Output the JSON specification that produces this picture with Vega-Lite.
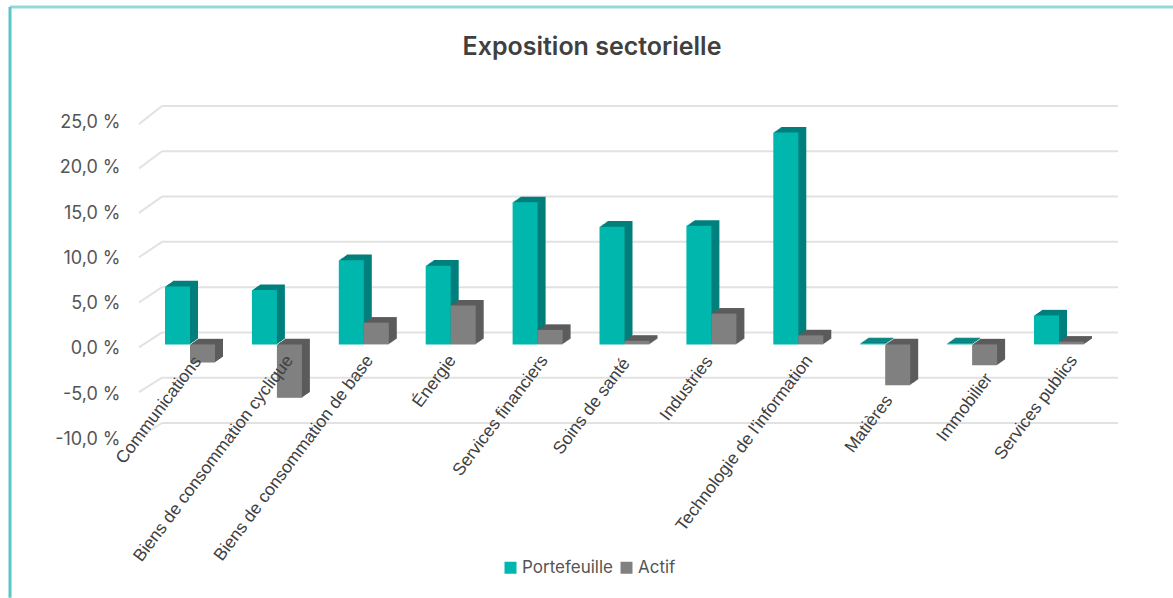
{"$schema":"https://vega.github.io/schema/vega-lite/v6.json","width":956,"height":317,"autosize":"none","padding":{"left":162,"top":106,"right":55,"bottom":175},"background":"#ffffff",
"params":[
{"name":"sx","expr":"{\"Communications\":8,\"Biens de consommation cyclique\":13,\"Biens de consommation de base\":6,\"Énergie\":2,\"Services financiers\":7,\"Soins de santé\":2,\"Industries\":-2,\"Technologie de l'information\":11,\"Matières\":4,\"Immobilier\":17,\"Services publics\":15}"},
{"name":"sy","expr":"{\"Communications\":1,\"Biens de consommation cyclique\":0,\"Biens de consommation de base\":0,\"Énergie\":0,\"Services financiers\":0,\"Soins de santé\":3,\"Industries\":1,\"Technologie de l'information\":0,\"Matières\":40,\"Immobilier\":18,\"Services publics\":0}"}
],
"title":{"text":"Exposition sectorielle","anchor":"middle","dx":-48,"offset":-54,"font":"Inter","fontSize":25,"fontWeight":600,"color":"#404040"},
"config":{"view":{"stroke":null}},
"resolve":{"scale":{"x":"independent"}},
"layer":[
{"data":{"values":[{"valeur":25,"avant":23.0},{"valeur":20,"avant":18.1},{"valeur":15,"avant":13.2},{"valeur":10,"avant":8.3},{"valeur":5,"avant":3.3},{"valeur":0,"avant":-1.65},{"valeur":-5,"avant":-6.6},{"valeur":-10,"avant":-11.6}]},
"resolve":{"scale":{"x":"independent"}},
"layer":[
{"mark":{"type":"rule","color":"#e2e2e2","strokeWidth":2},
"encoding":{"x":{"datum":0,"type":"quantitative","scale":{"domain":[0,1],"range":[-23,0]},"axis":null},"x2":{"datum":1},"y":{"field":"avant","type":"quantitative","title":null,"scale":{"domain":[-10,25],"nice":false,"zero":false},"axis":{"values":[-10,-5,0,5,10,15,20,25],"domain":false,"ticks":false,"grid":false,"labelPadding":42,"labelOffset":16.5,"labelFont":"Inter","labelFontSize":18,"labelColor":"#555555","labelExpr":"replace(replace(format(datum.value,'.1f'),'.',','),'−','-')+' %'"}},"y2":{"field":"valeur"}}},
{"mark":{"type":"rule","color":"#e2e2e2","strokeWidth":2},
"encoding":{"x":{"datum":0,"type":"quantitative","scale":{"domain":[0,1],"range":[0,956]},"axis":null},"x2":{"datum":1},"y":{"field":"valeur","type":"quantitative","title":null,"scale":{"domain":[-10,25],"nice":false,"zero":false},"axis":{"values":[-10,-5,0,5,10,15,20,25],"domain":false,"ticks":false,"grid":false,"labelPadding":42,"labelOffset":16.5,"labelFont":"Inter","labelFontSize":18,"labelColor":"#555555","labelExpr":"replace(replace(format(datum.value,'.1f'),'.',','),'−','-')+' %'"}}}}
]},
{"data":{"values":[{"a":0,"b":1,"haut":35.93,"bas":-29.3}]},
"layer":[
{"mark":{"type":"rule","color":"#93d9d9","strokeWidth":3},"encoding":{"x":{"field":"a","type":"quantitative","scale":{"domain":[0,1],"range":[-152,1011]},"axis":null},"x2":{"field":"b"},"y":{"field":"haut","type":"quantitative","title":null,"scale":{"domain":[-10,25],"nice":false,"zero":false},"axis":{"values":[-10,-5,0,5,10,15,20,25],"domain":false,"ticks":false,"grid":false,"labelPadding":42,"labelOffset":16.5,"labelFont":"Inter","labelFontSize":18,"labelColor":"#555555","labelExpr":"replace(replace(format(datum.value,'.1f'),'.',','),'−','-')+' %'"}}}},
{"mark":{"type":"rule","color":"#5cc6c6","strokeWidth":3},"encoding":{"x":{"field":"a","type":"quantitative","scale":{"domain":[0,1],"range":[-152,1011]},"axis":null},"y":{"field":"haut","type":"quantitative","title":null,"scale":{"domain":[-10,25],"nice":false,"zero":false},"axis":{"values":[-10,-5,0,5,10,15,20,25],"domain":false,"ticks":false,"grid":false,"labelPadding":42,"labelOffset":16.5,"labelFont":"Inter","labelFontSize":18,"labelColor":"#555555","labelExpr":"replace(replace(format(datum.value,'.1f'),'.',','),'−','-')+' %'"}},"y2":{"field":"bas"}}}
]},
{"data":{"values":[
{"secteur":"Communications","serie":"Portefeuille","valeur":6.4},{"secteur":"Communications","serie":"Actif","valeur":-2.0},
{"secteur":"Biens de consommation cyclique","serie":"Portefeuille","valeur":6.0},{"secteur":"Biens de consommation cyclique","serie":"Actif","valeur":-5.9},
{"secteur":"Biens de consommation de base","serie":"Portefeuille","valeur":9.3},{"secteur":"Biens de consommation de base","serie":"Actif","valeur":2.4},
{"secteur":"Énergie","serie":"Portefeuille","valeur":8.7},{"secteur":"Énergie","serie":"Actif","valeur":4.3},
{"secteur":"Services financiers","serie":"Portefeuille","valeur":15.7},{"secteur":"Services financiers","serie":"Actif","valeur":1.6},
{"secteur":"Soins de santé","serie":"Portefeuille","valeur":13.0},{"secteur":"Soins de santé","serie":"Actif","valeur":0.4},
{"secteur":"Industries","serie":"Portefeuille","valeur":13.1},{"secteur":"Industries","serie":"Actif","valeur":3.4},
{"secteur":"Technologie de l'information","serie":"Portefeuille","valeur":23.4},{"secteur":"Technologie de l'information","serie":"Actif","valeur":1.0},
{"secteur":"Matières","serie":"Portefeuille","valeur":0.12},{"secteur":"Matières","serie":"Actif","valeur":-4.5},
{"secteur":"Immobilier","serie":"Portefeuille","valeur":0.12},{"secteur":"Immobilier","serie":"Actif","valeur":-2.3},
{"secteur":"Services publics","serie":"Portefeuille","valeur":3.2},{"secteur":"Services publics","serie":"Actif","valeur":0.3}
]},
"encoding":{
"x":{"field":"secteur","type":"nominal","sort":null,"title":null,"scale":{"domain":["Communications","Biens de consommation cyclique","Biens de consommation de base","Énergie","Services financiers","Soins de santé","Industries","Technologie de l'information","Matières","Immobilier","Services publics"],"range":[-15.45,940.45],"paddingInner":0,"paddingOuter":0},
"axis":{"orient":"bottom","offset":-66,"domain":false,"ticks":false,"grid":false,"labelAngle":-53,"labelAlign":"right","labelBaseline":"middle","labelPadding":0,"labelFont":"Liberation Sans","labelFontSize":17.4,"labelColor":"#404040","labelLimit":500,"labelOverlap":false,"labelBound":false,"zindex":2,
"encoding":{"labels":{"dx":{"value":{"expr":"0.602*sx[datum.value]-0.799*sy[datum.value]"}},"dy":{"value":{"expr":"0.799*sx[datum.value]+0.602*sy[datum.value]"}}}}}},
"y":{"field":"valeur","type":"quantitative","title":null,"scale":{"domain":[-10,25],"nice":false,"zero":false},
"axis":{"values":[-10,-5,0,5,10,15,20,25],"domain":false,"ticks":false,"grid":false,"labelPadding":42,"labelOffset":16.5,"labelFont":"Inter","labelFontSize":18,"labelColor":"#555555","labelExpr":"replace(replace(format(datum.value,'.1f'),'.',','),'−','-')+' %'"}}
},
"layer":[
{"transform":[{"filter":"datum.serie==='Portefeuille'"}],"layer":[
{"mark":{"type":"bar","width":25,"color":"#007f7d","xOffset":-4.5,"yOffset":6.4}},
{"mark":{"type":"bar","width":25,"color":"#007f7d","xOffset":-5.5,"yOffset":7.1}},
{"mark":{"type":"bar","width":25,"color":"#007f7d","xOffset":-6.5,"yOffset":7.8}},
{"mark":{"type":"bar","width":25,"color":"#007f7d","xOffset":-7.5,"yOffset":8.5}},
{"mark":{"type":"bar","width":25,"color":"#007f7d","xOffset":-8.5,"yOffset":9.2}},
{"mark":{"type":"bar","width":25,"color":"#007f7d","xOffset":-9.5,"yOffset":9.9}},
{"mark":{"type":"bar","width":25,"color":"#007f7d","xOffset":-10.5,"yOffset":10.6}},
{"mark":{"type":"bar","width":25,"color":"#007f7d","xOffset":-11.5,"yOffset":11.3}},
{"mark":{"type":"bar","width":25,"xOffset":-12.5,"yOffset":12},"encoding":{"color":{"field":"serie","type":"nominal","scale":{"domain":["Portefeuille","Actif"],"range":["#00b7ae","#808080"]},"legend":{"orient":"none","legendX":340,"legendY":453,"direction":"horizontal","title":null,"symbolType":"square","symbolSize":144,"symbolStrokeWidth":0,"symbolOpacity":1,"labelFont":"Inter","labelFontSize":17,"labelColor":"#555555","labelOffset":3,"columnPadding":5}}}}
]},
{"transform":[{"filter":"datum.serie==='Actif'"}],"layer":[
{"mark":{"type":"bar","width":25,"color":"#5c5c5c","xOffset":20.5,"yOffset":6.4}},
{"mark":{"type":"bar","width":25,"color":"#5c5c5c","xOffset":19.5,"yOffset":7.1}},
{"mark":{"type":"bar","width":25,"color":"#5c5c5c","xOffset":18.5,"yOffset":7.8}},
{"mark":{"type":"bar","width":25,"color":"#5c5c5c","xOffset":17.5,"yOffset":8.5}},
{"mark":{"type":"bar","width":25,"color":"#5c5c5c","xOffset":16.5,"yOffset":9.2}},
{"mark":{"type":"bar","width":25,"color":"#5c5c5c","xOffset":15.5,"yOffset":9.9}},
{"mark":{"type":"bar","width":25,"color":"#5c5c5c","xOffset":14.5,"yOffset":10.6}},
{"mark":{"type":"bar","width":25,"color":"#5c5c5c","xOffset":13.5,"yOffset":11.3}},
{"mark":{"type":"bar","width":25,"xOffset":12.5,"yOffset":12},"encoding":{"color":{"field":"serie","type":"nominal","scale":{"domain":["Portefeuille","Actif"],"range":["#00b7ae","#808080"]},"legend":{"orient":"none","legendX":340,"legendY":453,"direction":"horizontal","title":null,"symbolType":"square","symbolSize":144,"symbolStrokeWidth":0,"symbolOpacity":1,"labelFont":"Inter","labelFontSize":17,"labelColor":"#555555","labelOffset":3,"columnPadding":5}}}}
]}
]}
]}
